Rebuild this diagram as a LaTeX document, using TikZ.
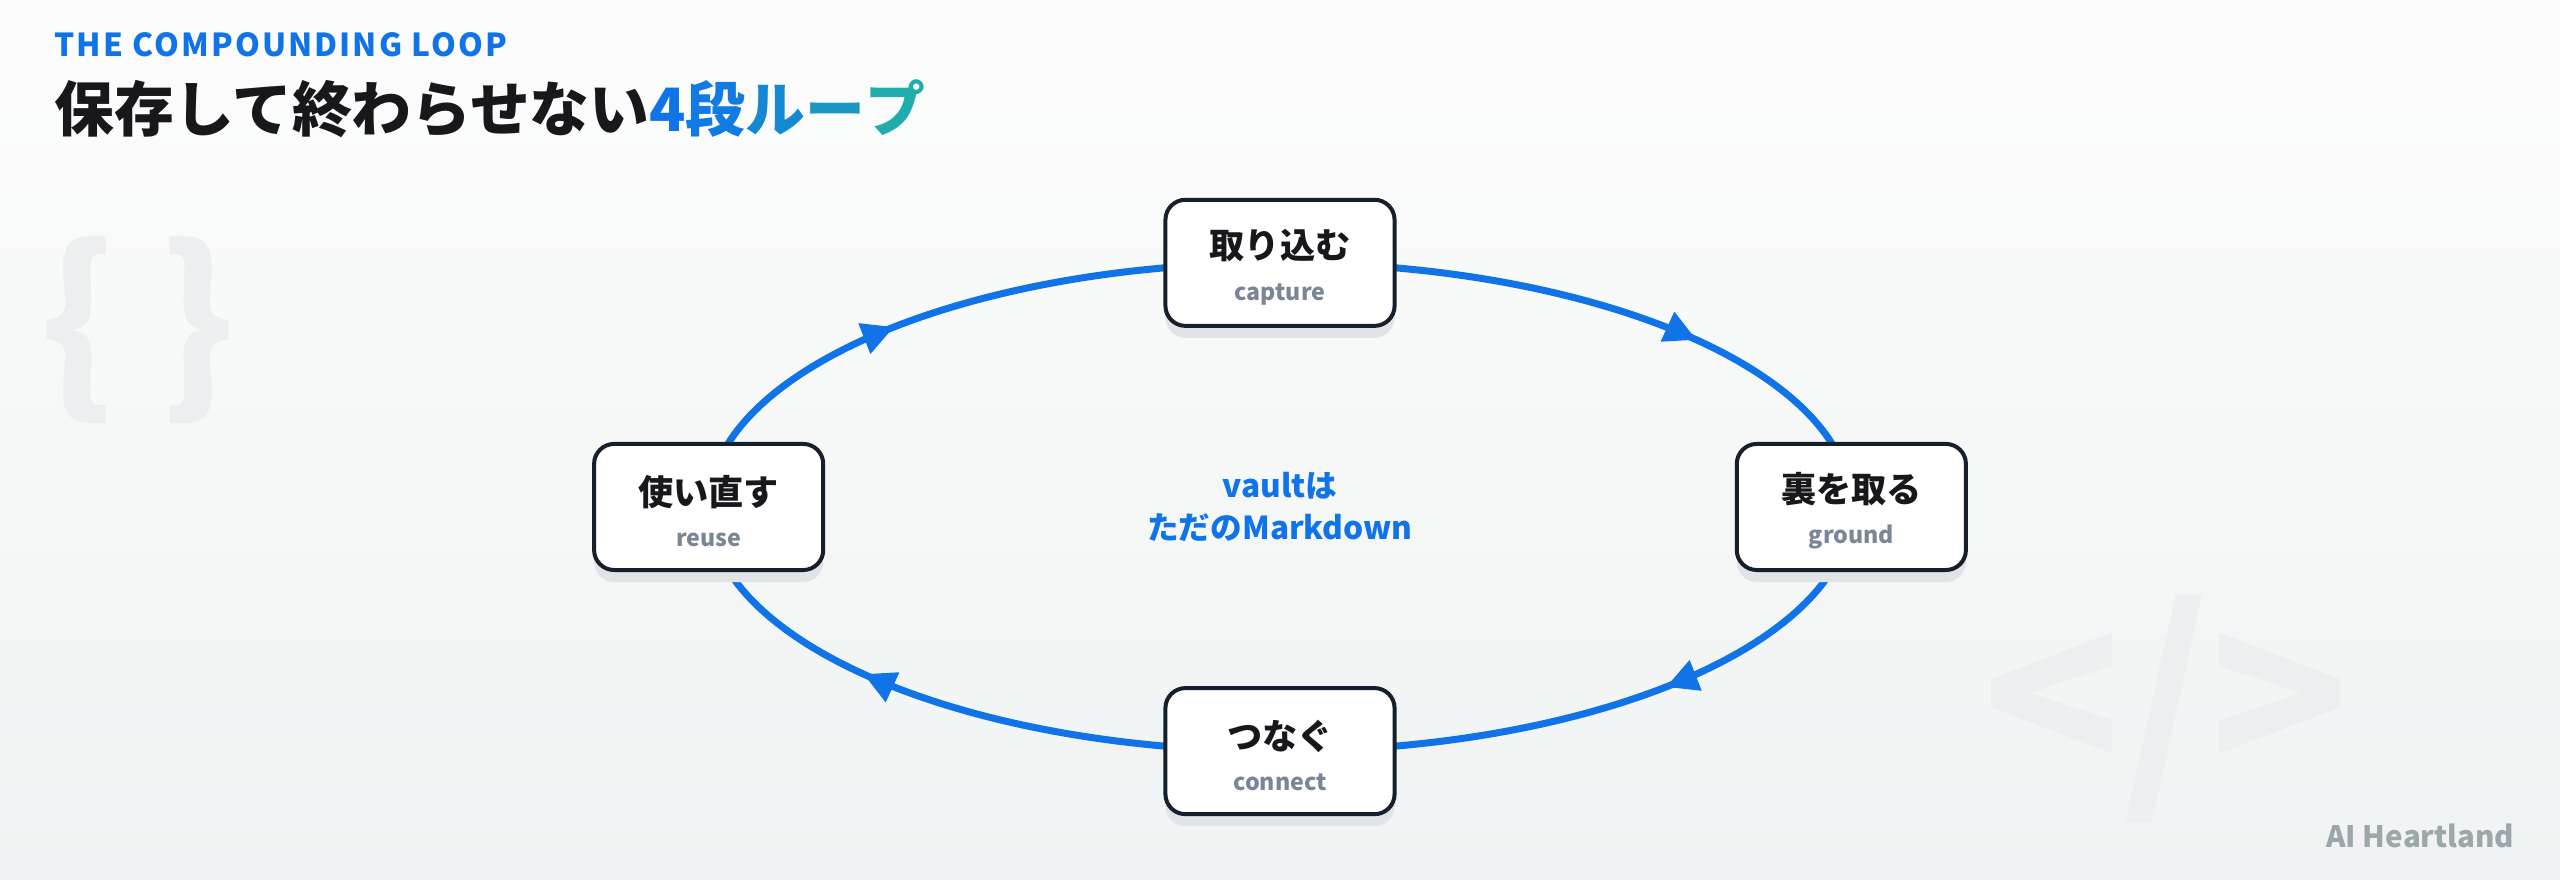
\documentclass[tikz,border=0pt]{standalone}
\usepackage{fontspec}
\usepackage{xcolor}
\usepackage{tikz}
\usetikzlibrary{positioning,arrows.meta,decorations.markings,backgrounds}
\setmainfont{Noto Sans CJK JP}
\definecolor{loopblue}{RGB}{16, 116, 232}
\definecolor{loopteal}{RGB}{34, 182, 162}
\definecolor{inkdark}{RGB}{24, 24, 28}
\definecolor{boxborder}{RGB}{22, 32, 44}
\definecolor{subgray}{RGB}{122, 134, 150}
\definecolor{markgray}{RGB}{155, 167, 170}
\definecolor{decogray}{RGB}{236, 238, 239}
\definecolor{shadowgray}{RGB}{225, 228, 231}
\definecolor{bgtop}{RGB}{252, 252, 252}
\definecolor{bgbottom}{RGB}{240, 243, 243}
\newcommand{\engloss}[1]{{\fontsize{6.6}{8}\selectfont\color{subgray}#1}}

\begin{document}
\begin{tikzpicture}[
    x=0.01cm, y=0.01cm,
    node distance=2.44cm,
    every node/.style={align=center, inner sep=0pt},
    stage/.style={rectangle, rounded corners=0.2cm, minimum width=2.29cm, minimum height=1.26cm, draw=boxborder, line width=0.04cm, fill=white, font=\fontsize{10}{11.8}\selectfont\bfseries, text=inkdark, preaction={fill=shadowgray, transform canvas={yshift=-0.12cm}}},
    looparc/.style={draw=loopblue, line width=0.07cm, postaction={decorate}, decoration={markings, mark=at position #1 with {\arrow{Triangle[length=0.32cm, width=0.31cm]}}}},
    deco/.style={text=decogray}
]
\useasboundingbox (0,0) rectangle (2560,880);

% Heading
\node[anchor=base west, font=\fontsize{9}{11}\selectfont\bfseries\addfontfeature{LetterSpace=6.5}, text=loopblue] (kicker) at (54,823) {THE COMPOUNDING LOOP};
\node[anchor=base west, font=\fontsize{17}{20}\selectfont\bfseries, text=inkdark] (title) at (54,748) {保存して終わらせない\textcolor{loopblue}{4}\textcolor{loopblue!90!loopteal}{段}\textcolor{loopblue!70!loopteal}{ル}\textcolor{loopblue!45!loopteal}{ー}\textcolor{loopblue!15!loopteal}{プ}};

% Loop stages
\node[font=\fontsize{9}{12.2}\selectfont\bfseries, text=loopblue] (hub) at (1280,373) {vaultは\\ただのMarkdown};
\node[stage, above of=hub] (capture) {\rule{0pt}{10.8pt}取り込む\\\engloss{capture}};
\node[stage, right of=hub, node distance=5.71cm] (ground) {\rule{0pt}{10.8pt}裏を取る\\\engloss{ground}};
\node[stage, below of=hub] (connect) {\rule{0pt}{10.8pt}つなぐ\\\engloss{connect}};
\node[stage, left of=hub, node distance=5.71cm] (reuse) {\rule{0pt}{10.8pt}使い直す\\\engloss{reuse}};

\node[anchor=base east, font=\fontsize{8.4}{10}\selectfont\bfseries, text=markgray] (brand) at (2515,32) {AI Heartland};

% Background, marks and arcs
\begin{scope}[on background layer]
\fill[top color=bgtop, bottom color=bgbottom] (0,0) rectangle (2560,880);
\node[deco, font=\fontsize{54}{60}\selectfont\bfseries] (braces) at (138,550) {\{\ \}};
\node[deco, font=\fontsize{65}{70}\selectfont\bfseries] (tag) at (2166,171) {</>};
\draw[looparc=0.64] (capture.center) arc[start angle=90, end angle=0, x radius=5.71cm, y radius=2.44cm];
\draw[looparc=0.41] (ground.center) arc[start angle=0, end angle=-90, x radius=5.71cm, y radius=2.44cm];
\draw[looparc=0.64] (connect.center) arc[start angle=-90, end angle=-180, x radius=5.71cm, y radius=2.44cm];
\draw[looparc=0.41] (reuse.center) arc[start angle=180, end angle=90, x radius=5.71cm, y radius=2.44cm];
\end{scope}

\end{tikzpicture}
\end{document}
